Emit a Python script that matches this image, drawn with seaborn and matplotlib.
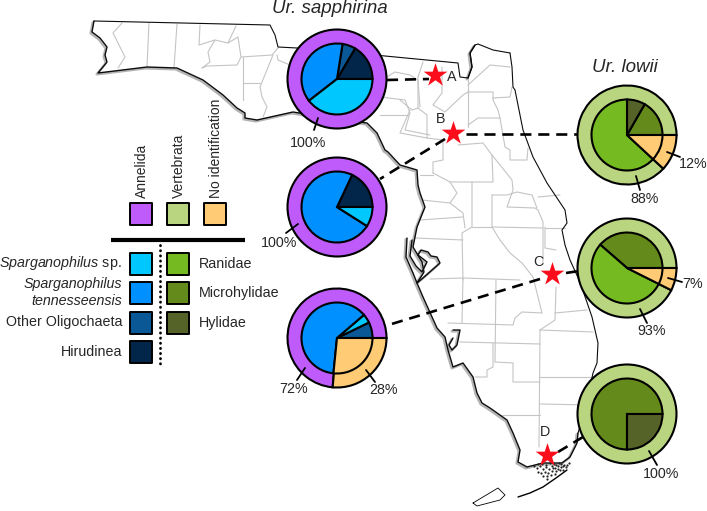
import pandas as pd
import matplotlib
matplotlib.use("Agg")
import matplotlib.pyplot as plt
import seaborn as sns

# -------------------------------
# Data: pies (percent of each ring)
# -------------------------------
C_ANN = "#bf5bfb"
C_VER = "#b9d580"
C_NOID = "#ffcb74"
C_SP = "#00c8ff"
C_TEN = "#0090ff"
C_OTH = "#0a5996"
C_HIR = "#02264a"
C_RAN = "#76ba22"
C_MIC = "#648a1c"
C_HYL = "#566328"

# outer ring and inner pie, both start at 3 o'clock going counterclockwise
sap_a_outer = [100]
sap_a_inner = [16.5, 6, 38, 39.5]
sap_a_inner_c = [C_HIR, C_OTH, C_TEN, C_SP]
sap_b_outer = [100]
sap_b_inner = [18, 73, 9]
sap_b_inner_c = [C_HIR, C_TEN, C_SP]
sap_c_outer = [73.6, 26.4]
sap_c_inner = [7.2, 4.1, 62.1, 26.6]
sap_c_inner_c = [C_OTH, C_SP, C_TEN, C_NOID]
low_a_outer = [88.1, 11.9]
low_a_inner = [16.7, 8.3, 63.1, 11.9]
low_a_inner_c = [C_MIC, C_HYL, C_RAN, C_NOID]
low_c_outer = [92.6, 7.4]
low_c_inner = [38.6, 54, 7.4]
low_c_inner_c = [C_MIC, C_RAN, C_NOID]
low_d_outer = [100]
low_d_inner = [75, 25]
low_d_inner_c = [C_MIC, C_HYL]

# -------------------------------
# Data: map (pixels, y down)
# -------------------------------
west_coast = [(94, 21), (92, 32), (100, 38), (107, 47), (105, 55), (107, 62), (98, 73), (147, 67), (177, 68),
              (203, 80), (223, 95), (237, 108), (245, 113), (245, 118), (257, 120), (275, 116), (293, 112),
              (330, 118), (367, 123), (377, 133), (385, 150), (388, 152), (400, 165), (417, 170), (418, 185),
              (420, 193), (425, 207), (417, 227), (413, 247), (422, 262), (424, 272), (417, 283), (423, 297),
              (437, 328), (445, 337), (448, 350), (453, 367), (463, 363), (473, 377), (477, 393), (482, 403),
              (490, 408), (507, 420), (513, 433), (520, 450), (518, 462), (527, 467), (543, 463), (562, 463),
              (570, 457), (577, 443), (578, 433)]
tampa_bay = [(407, 238), (406, 257), (413, 273), (417, 283), (423, 278), (440, 263), (437, 257), (431, 256),
             (428, 252), (421, 250), (418, 255), (427, 262), (422, 272), (416, 266), (410, 256), (412, 240)]
charlotte = [(453, 330), (460, 330), (457, 345), (452, 350), (449, 345), (453, 338)]
north_border = [(94, 21), (270, 25), (275, 35), (278, 47), (297, 48), (385, 56), (458, 63), (460, 77),
                (468, 78), (472, 67), (470, 53), (475, 45), (478, 44), (493, 50), (510, 53)]
st_marys = [(468, 78), (472, 67), (470, 53), (475, 45)]
east_coast = [(510, 53), (512, 67), (513, 87), (515, 90), (523, 130), (533, 157), (547, 183), (565, 210),
              (567, 223), (562, 230), (565, 245), (570, 260), (580, 282), (592, 317), (598, 343), (597, 363),
              (593, 373), (585, 410), (578, 433)]
keys_line = [(518, 497), (530, 493), (543, 487), (556, 478), (567, 470)]
keys_island = [(473, 503), (483, 497), (498, 488), (505, 495), (500, 500), (477, 506), (473, 503)]
county_lines = [
    [(122, 23), (113, 33), (125, 57), (118, 68)],
    [(149, 23), (147, 67)],
    [(177, 24), (174, 68)],
    [(200, 25), (199, 45), (215, 40), (228, 43), (238, 37), (241, 57), (237, 65), (207, 66), (202, 68)],
    [(236, 26), (228, 43)],
    [(215, 40), (208, 52), (210, 62), (202, 68)],
    [(241, 57), (272, 55), (278, 48)],
    [(243, 57), (243, 100)],
    [(243, 83), (260, 83)],
    [(273, 55), (260, 87), (262, 97), (267, 107), (263, 117)],
    [(277, 55), (278, 60), (290, 65)],
    [(385, 78), (395, 72), (410, 75), (418, 80), (420, 107)],
    [(423, 62), (418, 77), (418, 108)],
    [(380, 97), (405, 100), (410, 113), (405, 130), (430, 135)],
    [(380, 115), (408, 115)],
    [(442, 67), (442, 93), (433, 105), (445, 112), (463, 95), (468, 92)],
    [(468, 78), (468, 127)],
    [(468, 85), (490, 65), (510, 67)],
    [(468, 92), (493, 92), (493, 100), (498, 110), (500, 118)],
    [(493, 98), (510, 97), (512, 87)],
    [(468, 125), (478, 118), (500, 118), (505, 147), (510, 150), (510, 160), (527, 160), (528, 148)],
    [(400, 100), (412, 110), (418, 108), (427, 115), (427, 138), (443, 140)],
    [(410, 110), (400, 133), (427, 138)],
    [(443, 140), (443, 160), (433, 162), (433, 173)],
    [(458, 145), (483, 143), (492, 155), (493, 182), (450, 182)],
    [(433, 173), (450, 182), (457, 193), (450, 203), (463, 213), (465, 228)],
    [(420, 175), (433, 175)],
    [(472, 182), (472, 227), (462, 233), (463, 280)],
    [(422, 200), (450, 203)],
    [(420, 220), (463, 217)],
    [(415, 238), (463, 240)],
    [(492, 155), (512, 180), (513, 190), (507, 207), (535, 208), (538, 210), (543, 222), (543, 263)],
    [(492, 195), (507, 195), (517, 192), (532, 195), (537, 208)],
    [(492, 195), (492, 227), (543, 228)],
    [(538, 197), (560, 195)],
    [(472, 227), (492, 227)],
    [(492, 227), (500, 240), (510, 253), (522, 263), (533, 277), (542, 313)],
    [(430, 279), (463, 278), (462, 323)],
    [(463, 278), (520, 280)],
    [(496, 280), (495, 362)],
    [(556, 287), (555, 320), (540, 330)],
    [(555, 313), (587, 310)],
    [(540, 330), (593, 332)],
    [(540, 330), (539, 447)],
    [(448, 323), (513, 325), (515, 318), (522, 312), (542, 313)],
    [(460, 342), (540, 344)],
    [(493, 343), (493, 367), (487, 370), (487, 377), (475, 377)],
    [(495, 362), (513, 363), (513, 382), (540, 382)],
    [(502, 415), (540, 415)],
    [(540, 377), (593, 377)],
    [(540, 404), (590, 405)],
    [(545, 227), (545, 248), (556, 250)],
    [(545, 228), (565, 228)],
]
everglade_dots = [(534, 466), (537, 468), (540, 466), (543, 469), (546, 467), (549, 469), (552, 466), (555, 468),
                  (558, 466), (561, 467), (564, 465), (566, 467), (538, 472), (541, 473), (545, 472), (548, 473),
                  (552, 471), (556, 471), (560, 470), (563, 470), (543, 476), (547, 476), (551, 475),
                  (555, 474), (538, 464), (542, 464), (550, 463), (554, 464), (559, 463), (547, 479),
                  (563, 466), (567, 465), (569, 463), (546, 465), (556, 465), (561, 464), (553, 468), (558, 469)]

# dashed links from pies to the stars
dash_a = [(387, 80), (429, 79)]
dash_b_left = [(445, 139), (380, 179)]
dash_b_right = [(466, 134), (578, 134)]
dash_c_left = [(540, 279), (385, 326)]
dash_c_right = [(566, 273), (579, 271)]
dash_d = [(558, 452), (583, 437)]

star_x = [435, 453, 552, 547]
star_y = [75, 133, 274, 455]
star_labels = ["A", "B", "C", "D"]
star_label_x = [452, 441, 538, 545]
star_label_y = [77, 119, 262, 432]

# percent labels: text, text centre, leader line
pct_labels = [("100%", 308, 143, (318, 118), (314, 130)),
              ("100%", 279, 243, (298, 224), (286, 233)),
              ("72%", 294, 389, (305, 368), (297, 380)),
              ("28%", 383, 390, (366, 370), (375, 382)),
              ("12%", 693, 164, (667, 152), (680, 157)),
              ("88%", 645, 199, (636, 176), (640, 190)),
              ("7%", 693, 284, (668, 278), (682, 282)),
              ("93%", 652, 331, (640, 309), (647, 323)),
              ("100%", 661, 474, (649, 451), (657, 465))]

# legend
top_names = ["Annelida", "Vertebrata", "No identification"]
top_colors = [C_ANN, C_VER, C_NOID]
top_x = [141, 178, 215]
left_names = ["Other Oligochaeta", "Hirudinea"]
left_colors = [C_SP, C_TEN, C_OTH, C_HIR]
left_y = [264, 293, 323, 352]
right_names = ["Ranidae", "Microhylidae", "Hylidae"]
right_colors = [C_RAN, C_MIC, C_HYL]
right_y = [264, 293, 323]

# -------------------------------
# Figure
# -------------------------------
sns.set_theme(style="white")
plt.rcParams['font.family'] = ['Liberation Sans', 'DejaVu Sans']
plt.rcParams['mathtext.fontset'] = 'custom'
plt.rcParams['mathtext.it'] = 'Liberation Sans:italic'
plt.rcParams['mathtext.rm'] = 'Liberation Sans'

W, H = 707, 511
FS = 10.3
fig = plt.figure(figsize=(7.07, 5.11), dpi=100)
ax = fig.add_axes([0, 0, 1, 1])


def xs(points, dx=0):
    return [p[0] + dx for p in points]


def ys(points, dy=0):
    return [H - p[1] - dy for p in points]


def line(points, color="black", lw=1.0, dx=0, dy=0, z=2, **kw):
    sns.lineplot(x=xs(points, dx), y=ys(points, dy), sort=False, estimator=None, color=color,
                 linewidth=lw, zorder=z, ax=ax, **kw)


# counties, one table with a unit per line
rows = [(i, p[0], H - p[1]) for i, seg in enumerate(county_lines) for p in seg]
county_df = pd.DataFrame(rows, columns=["seg", "x", "y"])
sns.lineplot(data=county_df, x="x", y="y", units="seg", estimator=None, sort=False,
             color="#c4c4c4", linewidth=0.8, zorder=1, ax=ax)

# coast with its soft shadow on the gulf side
for shape in [west_coast, tampa_bay, charlotte, st_marys]:
    line(shape, color="#b4b4b4", lw=1.8, dx=-1.3, dy=1.3, z=1.5)
    line(shape, color="#0c0c0c", lw=1.0, z=2)
line(north_border, color="#0c0c0c", lw=0.8)
line(east_coast, color="#0c0c0c", lw=0.8)
line(keys_line, color="black", lw=1.0)
line(keys_island, color="black", lw=0.6)
sns.scatterplot(x=xs(everglade_dots), y=ys(everglade_dots), s=2.5, color="#222222", linewidth=0, zorder=2, ax=ax)

for dash in [dash_a, dash_b_left, dash_b_right, dash_c_left, dash_c_right, dash_d]:
    line(dash, lw=1.9, z=3, linestyle=(0, (4.2, 2.6)))

sns.scatterplot(x=star_x, y=[H - v for v in star_y], marker="*", s=320, color="#fb0d1b", linewidth=0, zorder=4, ax=ax)
for name, lx, ly in zip(star_labels, star_label_x, star_label_y):
    ax.text(lx, H - ly, name, ha="center", va="center", fontsize=FS, zorder=5)

# pies
R_OUT, R_IN = 49.5, 35.5
pies = [(337, 79, sap_a_outer, [C_ANN], sap_a_inner, sap_a_inner_c),
        (337, 207, sap_b_outer, [C_ANN], sap_b_inner, sap_b_inner_c),
        (337, 338, sap_c_outer, [C_ANN, C_NOID], sap_c_inner, sap_c_inner_c),
        (627, 135, low_a_outer, [C_VER, C_NOID], low_a_inner, low_a_inner_c),
        (627, 268, low_c_outer, [C_VER, C_NOID], low_c_inner, low_c_inner_c),
        (627, 414, low_d_outer, [C_VER], low_d_inner, low_d_inner_c)]
for cx, cy, outer, outer_c, inner, inner_c in pies:
    ax.pie(outer, colors=outer_c, center=(cx, H - cy), radius=R_OUT, startangle=0, frame=True,
           wedgeprops={"edgecolor": "black", "linewidth": 1.5, "zorder": 6})
    ax.pie(inner, colors=inner_c, center=(cx, H - cy), radius=R_IN, startangle=0, frame=True,
           wedgeprops={"edgecolor": "black", "linewidth": 1.5, "zorder": 7})

# percent labels with their short leaders
for txt, tx, ty, p0, p1 in pct_labels:
    line([p0, p1], lw=1.3, z=8)
    ax.text(tx, H - ty, txt, ha="center", va="center", fontsize=FS, zorder=9)

# titles
ax.text(330, H - 8, "Ur. sapphirina", style="italic", ha="center", va="center", fontsize=13.5)
ax.text(625, H - 67, "Ur. lowii", style="italic", ha="center", va="center", fontsize=13.5)

# legend swatches and texts
swatch = dict(marker="s", s=240, edgecolor="black", linewidth=1.4, zorder=5, ax=ax, legend=False)
sns.scatterplot(x=top_x, y=[H - 214] * 3, hue=top_names, palette=top_colors, **swatch)
sns.scatterplot(x=[141] * 4, y=[H - v for v in left_y], hue=left_colors, palette=left_colors, **swatch)
sns.scatterplot(x=[178] * 3, y=[H - v for v in right_y], hue=right_colors, palette=right_colors, **swatch)

for name, tx in zip(top_names, top_x):
    ax.text(tx + 1, H - 198, name, rotation=90, ha="center", va="bottom", fontsize=10)

ax.text(122, H - 263, r"$\mathit{Sparganophilus}$ sp.", ha="right", va="center", fontsize=FS)
ax.text(122, H - 284, "Sparganophilus", style="italic", ha="right", va="center", fontsize=FS)
ax.text(122, H - 301, "tennesseensis", style="italic", ha="right", va="center", fontsize=FS)
ax.text(122, H - 322, left_names[0], ha="right", va="center", fontsize=FS)
ax.text(122, H - 352, left_names[1], ha="right", va="center", fontsize=FS)
for name, v in zip(right_names, right_y):
    ax.text(199, H - v, name, ha="left", va="center", fontsize=FS)

line([(111, 239.5), (245, 239.5)], lw=3.0, z=5, solid_capstyle="butt")
line([(159.5, 245), (159.5, 364)], lw=2.0, z=5, linestyle=(0, (0.1, 1.75)), dash_capstyle="round")

ax.set_xlim(0, W)
ax.set_ylim(0, H)
ax.set_aspect("equal")
ax.set_xlabel("")
ax.set_ylabel("")
ax.set_xticks([])
ax.set_yticks([])
ax.axis("off")

plt.savefig("out.png", dpi=100)
